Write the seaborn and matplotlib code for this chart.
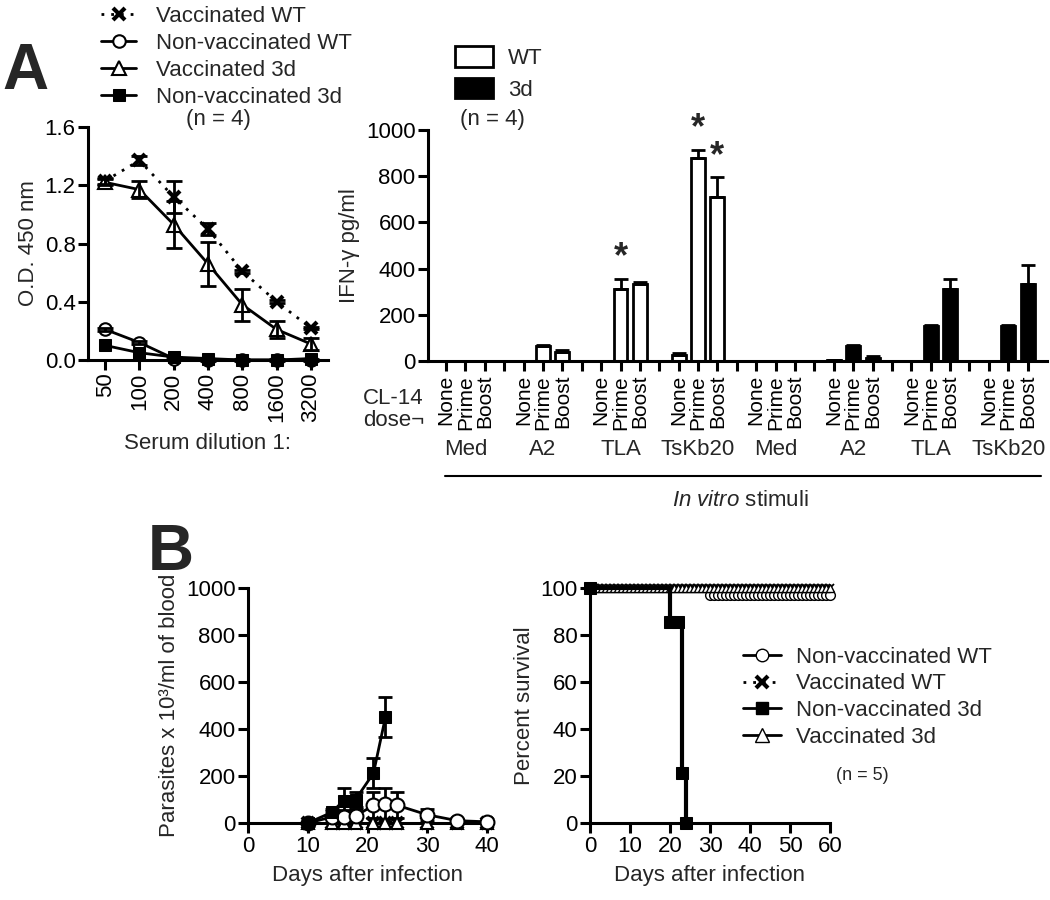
import numpy as np
import pandas as pd
import seaborn as sns
import matplotlib.pyplot as plt
from matplotlib.lines import Line2D
from matplotlib.patches import Patch
from matplotlib.transforms import blended_transform_factory

# ---- data ----
dilutions = ["50", "100", "200", "400", "800", "1600", "3200"]
od_vacc_wt = [1.23, 1.37, 1.12, 0.90, 0.61, 0.40, 0.22]
od_vacc_wt_err = [0.02, 0.03, 0.11, 0.04, 0.01, 0.01, 0.01]
od_nonvacc_wt = [0.21, 0.12, 0.01, 0.0, 0.0, 0.0, 0.0]
od_nonvacc_wt_err = [0.01, 0.01, 0.01, 0.01, 0.01, 0.01, 0.01]
od_vacc_3d = [1.22, 1.17, 0.93, 0.66, 0.38, 0.21, 0.11]
od_vacc_3d_err = [0.02, 0.06, 0.16, 0.15, 0.11, 0.06, 0.04]
od_nonvacc_3d = [0.10, 0.05, 0.02, 0.01, 0.0, 0.0, 0.01]

stimuli = ["Med", "A2", "TLA", "TsKb20"]
doses = ["None", "Prime", "Boost"]
ifn_wt = [1, 2, 2, 0, 65, 40, 0, 310, 335, 25, 880, 710]
ifn_wt_err = [0, 0, 0, 0, 3, 8, 0, 45, 5, 8, 35, 85]
ifn_3d = [0, 2, 2, 5, 65, 15, 0, 150, 310, 2, 150, 335]
ifn_3d_err = [0, 0, 0, 1, 3, 5, 0, 5, 45, 0, 5, 80]

par_days = [10, 14, 16, 18, 21, 23, 25, 30, 35, 40]
par_nonvacc_wt = [0, 25, 25, 30, 75, 80, 75, 35, 10, 5]
par_nonvacc_wt_err = [0, 25, 30, 30, 55, 70, 55, 25, 5, 0]
par_vacc_wt = [0, 0, 0, 0, 0, 0, 0, 0, 0, 0]
par_vacc_3d = [0, 0, 0, 0, 0, 0, 0, 0, 0, 0]
par_days_3d = [10, 14, 16, 18, 21, 23]
par_nonvacc_3d = [0, 45, 95, 100, 212, 450]
par_nonvacc_3d_err = [0, 15, 55, 30, 65, 85]

surv_days = list(range(0, 61))
surv_vacc = [100] * 61
surv_days_wt = list(range(30, 61))
surv_nonvacc_wt = [97] * 31
surv_days_3d = [0, 20, 22, 23, 24]
surv_nonvacc_3d = [100, 85.7, 85.7, 21.4, 0]

# ---- style ----
sns.set_theme(style="ticks")
plt.rcParams['font.family'] = ['Liberation Sans', 'DejaVu Sans']
plt.rcParams['mathtext.fontset'] = 'custom'
plt.rcParams['mathtext.rm'] = 'Liberation Sans'
plt.rcParams['mathtext.it'] = 'Liberation Sans:italic'
FS = 16
LW = 2.2

W, H = 1050, 900
fig = plt.figure(figsize=(10.5, 9), dpi=100)


def box(l, t, r, b):
    return [l / W, 1 - b / H, (r - l) / W, (b - t) / H]


def fx(x):
    return x / W


def fy(y):
    return 1 - y / H


def style_ax(ax):
    sns.despine(ax=ax)
    for s in ["left", "bottom"]:
        ax.spines[s].set_linewidth(LW)
        ax.spines[s].set_color("black")
    ax.tick_params(axis="both", width=LW, length=7, labelsize=FS, color="black",
                   labelcolor="black", pad=2)
    ax.grid(False)


ekw = dict(fmt="none", ecolor="black", elinewidth=2, capsize=6, capthick=2, clip_on=False)
dotted = (0, (1, 2.5))

# ---- Panel A left: ELISA ----
ax1 = fig.add_axes(box(88, 127, 328, 360))
xpos = np.arange(len(dilutions))
sns.lineplot(x=xpos, y=od_vacc_wt, ax=ax1, color="black", lw=2, linestyle=dotted,
             marker="x", markersize=9, mew=3, mec="black", label="Vaccinated WT",
             clip_on=False)
sns.lineplot(x=xpos, y=od_nonvacc_wt, ax=ax1, color="black", lw=2, marker="o", markersize=9,
             mfc="white", mec="black", mew=1.5, label="Non-vaccinated WT", clip_on=False)
sns.lineplot(x=xpos, y=od_vacc_3d, ax=ax1, color="black", lw=2, marker="^", markersize=10,
             mfc="white", mec="black", mew=1.5, label="Vaccinated 3d", clip_on=False)
sns.lineplot(x=xpos, y=od_nonvacc_3d, ax=ax1, color="black", lw=2, marker="s", markersize=8,
             mfc="black", mec="black", label="Non-vaccinated 3d", clip_on=False)
ax1.errorbar(xpos, od_vacc_wt, yerr=od_vacc_wt_err, **ekw)
ax1.errorbar(xpos, od_vacc_3d, yerr=od_vacc_3d_err, **ekw)
ax1.errorbar(xpos, od_nonvacc_wt, yerr=od_nonvacc_wt_err, **ekw)
ax1.set_xlim(-0.5, 6.5)
ax1.set_ylim(0, 1.6)
ax1.set_yticks([0, 0.4, 0.8, 1.2, 1.6])
ax1.set_yticklabels(["0.0", "0.4", "0.8", "1.2", "1.6"])
ax1.set_xticks(xpos)
ax1.set_xticklabels(dilutions, rotation=90)
style_ax(ax1)
ax1.set_xlabel("Serum dilution 1:", fontsize=FS, labelpad=8)
ax1.set_ylabel("O.D. 450 nm", fontsize=FS, labelpad=4)
h1, l1 = ax1.get_legend_handles_labels()
ax1.get_legend().remove()
fig.legend(h1, l1, loc="upper left", bbox_to_anchor=(fx(92), fy(-3)), frameon=False,
           fontsize=FS, handlelength=1.6, handletextpad=0.9, labelspacing=0.27,
           borderaxespad=0)
fig.text(fx(218), fy(119), "(n = 4)", fontsize=FS, ha="center", va="center")
fig.text(fx(2), fy(72), "A", fontsize=46, fontweight="bold", ha="left", va="center")

# ---- Panel A right: IFN-gamma bars ----
ax2 = fig.add_axes(box(428, 130, 1047, 361))
pos_wt = [4 * g + j for g in range(4) for j in range(3)]
pos_3d = [4 * (g + 4) + j for g in range(4) for j in range(3)]
sns.barplot(x=pos_wt, y=ifn_wt, ax=ax2, native_scale=True, width=0.72, color="white",
            edgecolor="black", linewidth=2, saturation=1, errorbar=None)
sns.barplot(x=pos_3d, y=ifn_3d, ax=ax2, native_scale=True, width=0.72, color="black",
            edgecolor="black", linewidth=2, saturation=1, errorbar=None)
ax2.errorbar(pos_wt, ifn_wt, yerr=[np.zeros(12), ifn_wt_err], **dict(ekw, capsize=5))
ax2.errorbar(pos_3d, ifn_3d, yerr=[np.zeros(12), ifn_3d_err], **dict(ekw, capsize=5))
for i in [7, 10, 11]:
    ax2.text(pos_wt[i], ifn_wt[i] + ifn_wt_err[i] + 15, "*", ha="center", va="bottom",
             fontsize=26, fontweight="bold")
ax2.set_xlim(-0.93, 31)
ax2.set_ylim(0, 1000)
ax2.set_yticks([0, 200, 400, 600, 800, 1000])
all_pos = list(range(0, 31))
ax2.set_xticks(all_pos)
ax2.set_xticklabels([doses[p % 4] if p % 4 < 3 else "" for p in all_pos], rotation=90,
                    fontsize=15, va="top")
style_ax(ax2)
ax2.tick_params(axis="x", labelsize=15, pad=3)
ax2.set_xlabel("")
ax2.set_ylabel("IFN-γ pg/ml", fontsize=FS, labelpad=4)
tr = blended_transform_factory(ax2.transData, fig.transFigure)
for g in range(8):
    ax2.text(4 * g + 1, fy(449), stimuli[g % 4], transform=tr, ha="center", va="center",
             fontsize=FS)
ax2.add_line(Line2D([-0.05, 30.7], [fy(476), fy(476)], transform=tr, color="black",
                    lw=1.5, clip_on=False))
ax2.text(15.2, fy(500), r"$\mathit{In\ vitro}$ stimuli", transform=tr, ha="center",
         va="center", fontsize=FS)
fig.text(fx(424), fy(398), "CL-14", fontsize=FS, ha="right", va="center")
fig.text(fx(424), fy(420), "dose¬", fontsize=FS, ha="right", va="center")
bar_handles = [Patch(facecolor="white", edgecolor="black", lw=2),
               Patch(facecolor="black", edgecolor="black", lw=2)]
fig.legend(bar_handles, ["WT", "3d"], loc="upper left", bbox_to_anchor=(fx(446), fy(37)),
           frameon=False, fontsize=FS, handlelength=1.7, handleheight=1.05,
           handletextpad=0.7, labelspacing=0.4, borderaxespad=0)
fig.text(fx(492), fy(120), "(n = 4)", fontsize=FS, ha="center", va="center")

# ---- Panel B left: parasitemia ----
ax3 = fig.add_axes(box(248, 588, 487, 823))
sns.lineplot(x=par_days, y=par_vacc_wt, ax=ax3, color="black", lw=2, linestyle=dotted,
             marker="x", markersize=8, mew=3, mec="black", clip_on=False, zorder=3)
sns.lineplot(x=par_days, y=par_vacc_3d, ax=ax3, color="black", lw=2, marker="^",
             markersize=9, mfc="white", mec="black", mew=1.5, clip_on=False, zorder=3)
sns.lineplot(x=par_days, y=par_nonvacc_wt, ax=ax3, color="black", lw=2, marker="o",
             markersize=10, mfc="white", mec="black", mew=1.5, clip_on=False, zorder=4)
sns.lineplot(x=par_days_3d, y=par_nonvacc_3d, ax=ax3, color="black", lw=2, marker="s",
             markersize=8, mfc="black", mec="black", clip_on=False, zorder=4)
ax3.errorbar(par_days, par_nonvacc_wt, yerr=par_nonvacc_wt_err, **dict(ekw, capsize=5))
ax3.errorbar(par_days_3d, par_nonvacc_3d, yerr=par_nonvacc_3d_err, **dict(ekw, capsize=5))
ax3.set_xlim(0, 40)
ax3.set_ylim(0, 1000)
ax3.set_xticks([0, 10, 20, 30, 40])
ax3.set_yticks([0, 200, 400, 600, 800, 1000])
style_ax(ax3)
ax3.set_xlabel("Days after infection", fontsize=FS, labelpad=6)
ax3.set_ylabel("Parasites x 10³/ml of blood", fontsize=FS, labelpad=4)
fig.text(fx(148), fy(553), "B", fontsize=46, fontweight="bold", ha="left", va="center")

# ---- Panel B right: survival ----
ax4 = fig.add_axes(box(590, 588, 830, 823))
sns.lineplot(x=surv_days, y=surv_vacc, ax=ax4, color="black", lw=2, linestyle=dotted,
             marker="x", markersize=6, mew=1.3, mec="black", clip_on=False,
             drawstyle="steps-post")
sns.lineplot(x=surv_days_wt, y=surv_nonvacc_wt, ax=ax4, color="black", lw=0, marker="o",
             markersize=7, mfc="white", mec="black", mew=1.0, clip_on=False)
sns.lineplot(x=surv_days, y=surv_vacc, ax=ax4, color="black", lw=2, marker="^",
             markersize=6, mfc="white", mec="black", mew=1.0, clip_on=False,
             drawstyle="steps-post")
sns.lineplot(x=surv_days_3d, y=surv_nonvacc_3d, ax=ax4, color="black", lw=3, marker="s",
             markersize=9, mfc="black", mec="black", clip_on=False, drawstyle="steps-post")
ax4.set_xlim(0, 60)
ax4.set_ylim(0, 100)
ax4.set_xticks([0, 10, 20, 30, 40, 50, 60])
ax4.set_yticks([0, 20, 40, 60, 80, 100])
style_ax(ax4)
ax4.set_xlabel("Days after infection", fontsize=FS, labelpad=6)
ax4.set_ylabel("Percent survival", fontsize=FS, labelpad=4)
surv_handles = [
    Line2D([], [], color="black", lw=2, marker="o", markersize=9, mfc="white", mec="black"),
    Line2D([], [], color="black", lw=2, linestyle=dotted, marker="x", markersize=8, mew=3,
           mec="black"),
    Line2D([], [], color="black", lw=2, marker="s", markersize=8, mfc="black"),
    Line2D([], [], color="black", lw=2, marker="^", markersize=10, mfc="white", mec="black"),
]
fig.legend(surv_handles, ["Non-vaccinated WT", "Vaccinated WT", "Non-vaccinated 3d",
                          "Vaccinated 3d"], loc="upper left", bbox_to_anchor=(fx(734), fy(638)),
           frameon=False, fontsize=FS, handlelength=1.7, handletextpad=0.7,
           labelspacing=0.25, borderaxespad=0)
fig.text(fx(862), fy(776), "(n = 5)", fontsize=13, ha="center", va="center")

fig.savefig("out.png", dpi=100)
